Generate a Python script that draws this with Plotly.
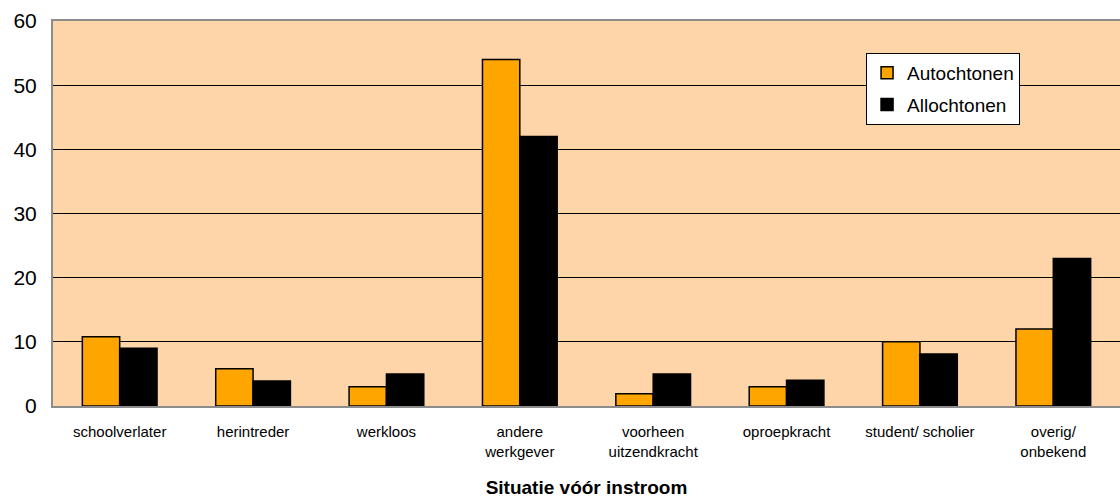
import plotly.graph_objects as go

categories = ["schoolverlater", "herintreder", "werkloos", "andere<br>werkgever",
              "voorheen<br>uitzendkracht", "oproepkracht", "student/ scholier", "overig/<br>onbekend"]
autochtonen = [10.8, 5.8, 3.0, 54.0, 1.9, 3.0, 10.0, 12.0]
allochtonen = [9.0, 3.9, 5.0, 42.0, 5.0, 4.0, 8.1, 23.0]
y_ticks = [0, 10, 20, 30, 40, 50, 60]

fig = go.Figure()
fig.add_trace(go.Bar(x=categories, y=autochtonen, name="Autochtonen",
                     marker=dict(color="#FFA500", line=dict(color="#000000", width=1.5)),
                     legendgroup="a"))
fig.add_trace(go.Bar(x=categories, y=allochtonen, name="Allochtonen",
                     marker=dict(color="#000000", line=dict(color="#000000", width=1.5)),
                     legendgroup="b"))

fig.update_layout(
    width=1120, height=498,
    margin=dict(l=53, r=0, t=21, b=92),
    paper_bgcolor="white", plot_bgcolor="#FDD5A9",
    barmode="group", bargap=0.44, bargroupgap=0,
    font=dict(family="Arial, Liberation Sans, sans-serif", color="#000000"),
    legend=dict(x=0.762, y=0.917, xanchor="left", yanchor="top",
                bgcolor="white", bordercolor="#000000", borderwidth=1,
                font=dict(size=19), tracegroupgap=4),
    xaxis=dict(tickfont=dict(size=15), showline=True, linecolor="#8c8c8c", linewidth=2,
               mirror=True, ticks="", automargin=False, ticklabelstandoff=11,
               title=dict(text="<b>Situatie vóór instroom</b>", font=dict(size=19), standoff=22)),
    yaxis=dict(range=[0, 60], tickvals=y_ticks, tickfont=dict(size=21),
               showgrid=True, gridcolor="#000000", gridwidth=1,
               showline=True, linecolor="#8c8c8c", linewidth=2, mirror=True,
               ticks="", ticklabelstandoff=10, zeroline=False, automargin=False),
)

fig.write_html("out.html", config={"displayModeBar": False},
               post_script="document.body.style.margin='0';document.body.style.overflow='hidden';")
